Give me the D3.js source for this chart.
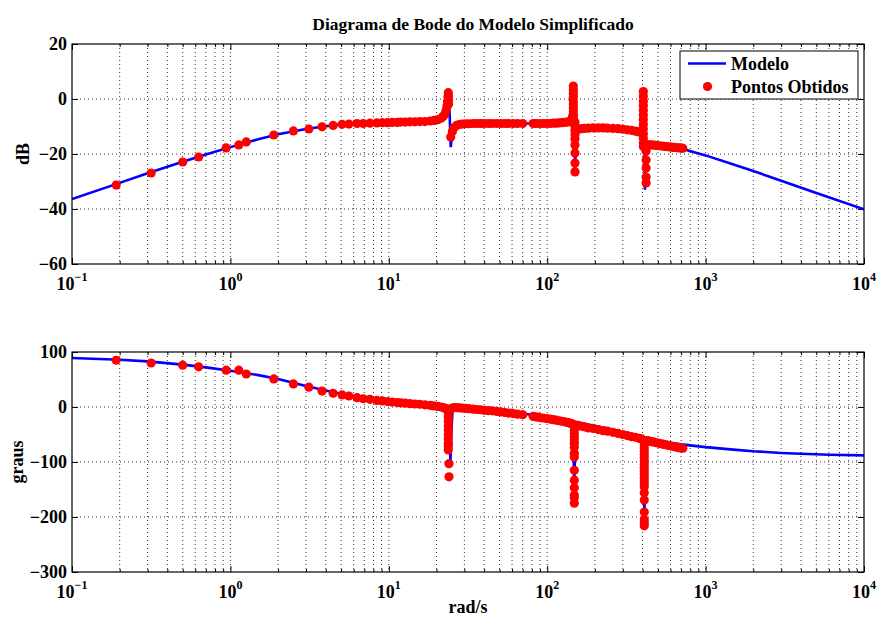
<!DOCTYPE html>
<html>
<head>
<meta charset="utf-8">
<script src="https://cdn.jsdelivr.net/npm/d3@7"></script>
<style>
body { margin: 0; background: #fff; }
text { font-family: "Liberation Serif", "Times New Roman", serif; font-weight: bold; fill: #000; }
</style>
</head>
<body>
<svg></svg>
<script>
// modelo (linha azul)
const modelMagW = [0.1,0.2,0.3,0.5,0.7,1,1.5,2,3,4,5,7,10,15,20,22,23,23.5,23.8,24.2,24.6,25,25.6,27,30,50,80,110,130,140,144,146,147.3,148.5,149.8,151,153,160,200,300,380,398,404,406,410,414,418,425,500,700,1000,1500,2000,3000,5000,10000];
const modelMagDb = [-36.4,-30.5,-27,-22.8,-20.2,-17.5,-14.6,-12.8,-10.9,-9.9,-9.3,-8.8,-8.5,-8.2,-7.6,-6.5,-4.5,-1,2.5,-5,-17.5,-14,-11,-9.6,-9.1,-8.9,-8.9,-8.8,-8.3,-6.5,-3.5,0,4.5,-5,-28,-20,-13.5,-11.3,-10.6,-11,-12,-10,-3,3.5,-10,-33,-22,-17,-17.1,-18,-20.5,-23.8,-26.2,-29.7,-34.2,-40.1];

const modelPhW = [0.1,0.2,0.3,0.5,0.7,1,1.5,2,3,4,5,7,10,15,20,22,23,23.6,24.0,24.3,24.5,24.7,25.2,26,30,40,60,80,100,130,142,145,146.5,147.5,148.3,149,150,152,160,260,390,400,405,408,411,414,418,425,500,700,1000,1500,2000,3000,4000,6000,10000];
const modelPhDeg = [89,86,83,77,72,66,58,51,38,30,24,17,10,5,2,0,-3,-8,-30,-70,-100,-60,-10,-2,-3,-6,-10,-14,-18,-24,-28,-35,-60,-120,-172,-120,-50,-33,-29,-41,-55,-60,-80,-140,-200,-120,-70,-58,-62,-68,-73,-77.5,-80.5,-83.5,-85,-86.8,-88];

// pontos obtidos (vermelho) - modulo
const ptsMagW = [0.19,0.316,0.5,0.63,0.94,1.13,1.26,1.88,2.5,3.13,3.79,4.45,5.07,5.6,6.3,
  6.9,7.6,8.4,9.1,9.8,10.5,11.3,11.9,12.7,13.6,14.6,15.7,16.9,18.2,19.3,20.4,21.4,22.0,22.6,23.0,23.3,23.5,23.65,23.75,23.8,23.8,23.85,
  24.6,25.2,25.9,26.8,27.8,29,30.5,32,34,36,38,40,42.5,45,48,51,54,57,61,65,70,
  81.5,85,89,94,99,104,109,114,119,124,129,134,138,141,143,144.5,145.5,
  146.2,146.2,146.2,146.2,146.2,146.2,146.2,146.2,146.2,146.2,
  149.8,149.8,149.8,149.8,149.8,149.8,149.8,149.8,149.8,
  152,158,165,172,182,195,210,225,240,260,280,300,320,340,360,380,392,
  404.6,404.6,404.6,404.6,404.6,404.6,404.6,404.6,404.6,404.6,404.6,404.6,404.6,
  421,421,421,421,421,
  428,440,456,473,490,508,527,546,566,587,608,630,654,678,700,718];
const ptsMagDb = [-31.3,-26.9,-22.9,-21.1,-17.8,-16.7,-15.6,-13.1,-11.6,-10.9,-10.1,-9.6,-9.2,-9.1,-8.9,
  -8.9,-8.8,-8.7,-8.6,-8.6,-8.5,-8.5,-8.4,-8.4,-8.3,-8.3,-8.2,-8.2,-8.0,-7.8,-7.5,-7.0,-6.4,-5.5,-4.2,-2.5,-0.8,0.8,2.3,1.0,-0.5,-1.8,
  -13.8,-11.8,-10.4,-9.6,-9.3,-9.1,-9.0,-9.0,-8.9,-8.9,-8.9,-8.9,-8.9,-8.9,-8.9,-8.9,-8.9,-8.9,-8.9,-8.9,-8.9,
  -8.9,-8.9,-8.9,-8.9,-8.9,-8.9,-8.8,-8.8,-8.7,-8.6,-8.5,-8.4,-8.2,-7.9,-7.4,-6.8,-6.0,
  4.7,3.4,2.1,0.8,-0.5,-1.8,-3.1,-4.4,-5.7,-7.0,
  -8.5,-10,-11.5,-13,-14.5,-16.7,-19.6,-23.3,-26.5,
  -11.2,-11.0,-10.8,-10.7,-10.6,-10.5,-10.5,-10.5,-10.6,-10.7,-10.8,-11.0,-11.2,-11.4,-11.7,-12.0,-11.5,
  2.7,1.0,-0.7,-2.4,-4.1,-5.8,-7.5,-9.2,-10.9,-12.6,-14.3,-16.0,-17.3,
  -19,-22.2,-25.1,-28.4,-30.5,
  -16.6,-16.7,-16.7,-16.8,-16.9,-17.0,-17.1,-17.2,-17.3,-17.4,-17.5,-17.6,-17.7,-17.8,-17.8,-17.9];

// pontos obtidos (vermelho) - fase
const ptsPhW = [0.19,0.316,0.5,0.63,0.94,1.13,1.26,1.88,2.5,3.13,3.79,4.45,5.07,5.6,6.3,
  6.9,7.6,8.4,9.1,9.8,10.5,11.3,11.9,12.7,13.6,14.6,15.7,16.9,18.2,19.3,20.4,21.4,22.0,22.6,23.0,23.3,23.6,
  23.75,23.75,23.75,23.75,23.75,23.75,23.75,23.75,23.75,23.75,24.0,24.0,
  24.6,25.2,25.9,26.8,27.8,29,30.5,32,34,36,38,40,42.5,45,48,51,54,57,61,65,70,
  81.5,85,89,94,99,104,109,114,119,124,129,134,138,141,143,144.5,
  148.3,148.3,148.3,148.3,148.3,148.3,148.3,148.3,148.3,148.3,148.3,148.3,148.3,148.3,148.3,
  152,158,165,172,182,195,210,225,240,260,280,300,320,340,360,380,395,
  410,410,410,410,410,410,410,410,410,410,410,410,410,410,410,410,410,410,410,410,410,
  428,440,456,473,490,508,527,546,566,587,608,630,654,678,700,718];
const ptsPhDeg = [85,80,76,73,67,67,60,51,42,36,29,25,22,20,17,
  15,14,12,11,10,9,8,7.5,7,6,5.5,5,4,3,2,1,0,-1,-2,-3,-4,-5,
  -10,-18,-26,-34,-42,-50,-58,-66,-72,-78,-103,-127,
  -4,-2,-1,-1,-1.5,-2,-2.5,-3,-4,-4.5,-5,-6,-6.5,-7,-8,-9,-10,-11,-12,-13,-14,
  -17,-18,-19,-20,-21,-22,-23,-24,-25,-26,-27,-28,-29,-30,-30.5,-31,
  -36,-42,-48,-54,-60,-66,-73,-84,-91,-115,-133,-147,-160,-165,-175,
  -33,-34,-35,-36,-38,-39,-41,-43,-44,-46,-48,-50,-52,-54,-55,-57,-58,
  -62,-68,-74,-80,-86,-92,-98,-104,-110,-116,-122,-128,-134,-140,-145,-156,-169,-191,-205,-211,-216,
  -61,-62,-63,-64,-65,-66,-67,-68,-69,-70,-71,-72,-73,-74,-74.5,-75];

const magTicks = [-60, -40, -20, 0, 20];
const phTicks = [-300, -200, -100, 0, 100];
const decades = [0.1, 1, 10, 100, 1000, 10000];
const decadeExp = ["\u22121", "0", "1", "2", "3", "4"];

const width = 878, height = 621;
const svg = d3.select("svg").attr("width", width).attr("height", height);

const x = d3.scaleLog().domain([0.1, 10000]).range([72, 864]);

const minors = [];
decades.slice(0, -1).forEach(function (d) {
  for (let k = 2; k <= 9; k++) minors.push(d * k);
});

function drawPanel(top, bottom, domain, ticks, ylabel, ylabelX, lw, lv, pw, pv, id) {
  const y = d3.scaleLinear().domain(domain).range([bottom, top]);
  const g = svg.append("g");

  svg.append("clipPath").attr("id", id)
    .append("rect").attr("x", 72).attr("y", top).attr("width", 792).attr("height", bottom - top);

  // grade pontilhada
  g.selectAll(".vgrid").data(minors.concat(decades.slice(1, -1))).enter()
    .append("line")
    .attr("x1", d => x(d)).attr("x2", d => x(d))
    .attr("y1", top).attr("y2", bottom)
    .attr("stroke", "#333").attr("stroke-width", 1).attr("stroke-dasharray", "1,3");
  g.selectAll(".hgrid").data(ticks.slice(1, -1)).enter()
    .append("line")
    .attr("x1", 72).attr("x2", 864)
    .attr("y1", d => y(d)).attr("y2", d => y(d))
    .attr("stroke", "#333").attr("stroke-width", 1).attr("stroke-dasharray", "1,3");

  // eixos com marcas para dentro
  const clean = sel => sel.select(".domain").remove();
  g.append("g").attr("transform", `translate(0,${bottom})`)
    .call(d3.axisBottom(x).tickValues(decades).tickSize(-6).tickFormat("")).call(clean);
  g.append("g").attr("transform", `translate(0,${bottom})`)
    .call(d3.axisBottom(x).tickValues(minors).tickSize(-3).tickFormat("")).call(clean);
  g.append("g").attr("transform", `translate(0,${top})`)
    .call(d3.axisTop(x).tickValues(decades).tickSize(-6).tickFormat("")).call(clean);
  g.append("g").attr("transform", `translate(0,${top})`)
    .call(d3.axisTop(x).tickValues(minors).tickSize(-3).tickFormat("")).call(clean);
  g.append("g").attr("transform", "translate(864,0)")
    .call(d3.axisRight(y).tickValues(ticks).tickSize(-6).tickFormat("")).call(clean);
  const yAxis = g.append("g").attr("transform", "translate(72,0)")
    .call(d3.axisLeft(y).tickValues(ticks).tickSize(-6).tickPadding(5)).call(clean);
  yAxis.selectAll("text").style("font-size", "18px")
    .style("font-family", '"Liberation Serif", "Times New Roman", serif')
    .style("font-weight", "bold");
  g.selectAll(".tick line").attr("stroke", "#000");

  // rotulos 10^n
  const xl = g.selectAll(".xlab").data(decades).enter()
    .append("text")
    .attr("x", d => x(d))
    .attr("y", bottom + 26)
    .attr("text-anchor", "middle")
    .style("font-size", "18px");
  xl.append("tspan").text("10");
  xl.append("tspan").attr("dy", -9).style("font-size", "12px").text((d, i) => decadeExp[i]);

  // modelo
  const line = d3.line().x((d, i) => x(lw[i])).y(d => y(d));
  g.append("path").datum(lv)
    .attr("clip-path", `url(#${id})`)
    .attr("d", line)
    .attr("fill", "none").attr("stroke", "#0000ff").attr("stroke-width", 2.6);

  // pontos
  g.selectAll(".pt").data(pv).enter()
    .append("circle")
    .attr("cx", (d, i) => x(pw[i]))
    .attr("cy", d => y(d))
    .attr("r", 4.6)
    .attr("fill", "#ff0000");

  // caixa
  g.append("rect").attr("x", 72).attr("y", top).attr("width", 792).attr("height", bottom - top)
    .attr("fill", "none").attr("stroke", "#000").attr("stroke-width", 1.2);

  svg.append("text")
    .attr("transform", `translate(${ylabelX},${(top + bottom) / 2}) rotate(-90)`)
    .attr("text-anchor", "middle")
    .style("font-size", "18px")
    .text(ylabel);
  return g;
}

drawPanel(44, 264, [-60, 20], magTicks, "dB", 29, modelMagW, modelMagDb, ptsMagW, ptsMagDb, "clipMag");
drawPanel(352, 572, [-300, 100], phTicks, "graus", 23, modelPhW, modelPhDeg, ptsPhW, ptsPhDeg, "clipPh");

svg.append("text").attr("x", 473).attr("y", 30).attr("text-anchor", "middle")
  .style("font-size", "17.5px").text("Diagrama de Bode do Modelo Simplificado");
svg.append("text").attr("x", 468).attr("y", 613).attr("text-anchor", "middle")
  .style("font-size", "18px").text("rad/s");

// legenda
const leg = svg.append("g");
leg.append("rect").attr("x", 680).attr("y", 51).attr("width", 178).attr("height", 48)
  .attr("fill", "#fff").attr("stroke", "#000").attr("stroke-width", 1);
leg.append("line").attr("x1", 688).attr("x2", 726).attr("y1", 63.5).attr("y2", 63.5)
  .attr("stroke", "#0000ff").attr("stroke-width", 2.6);
leg.append("circle").attr("cx", 707.5).attr("cy", 86.5).attr("r", 4.6).attr("fill", "#ff0000");
leg.append("text").attr("x", 731).attr("y", 70).style("font-size", "18px").text("Modelo");
leg.append("text").attr("x", 731).attr("y", 93).style("font-size", "18px").text("Pontos Obtidos");
</script>
</body>
</html>
